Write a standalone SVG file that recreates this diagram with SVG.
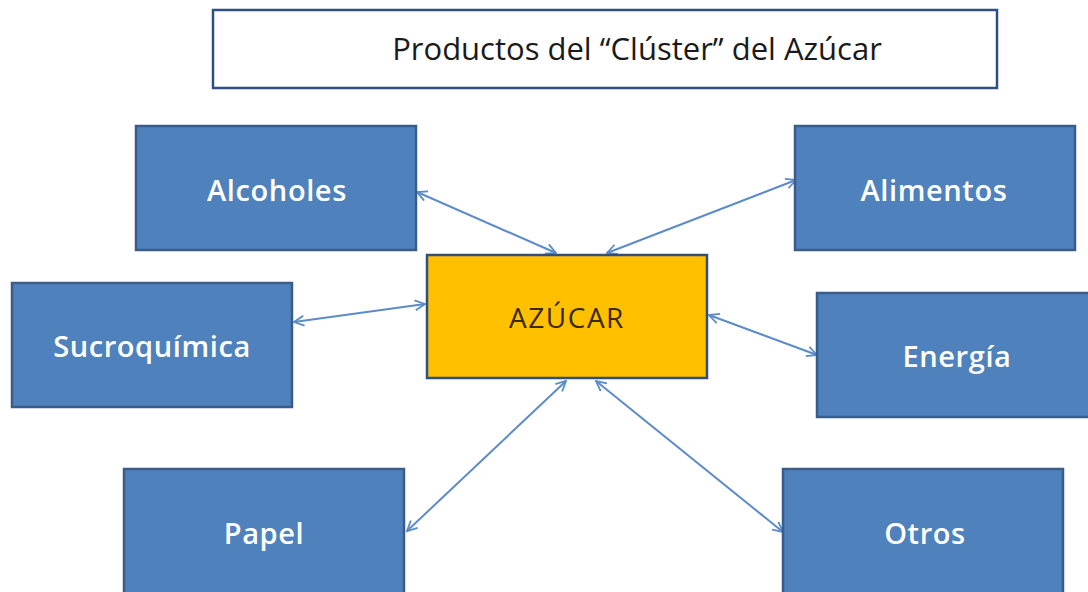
<svg xmlns="http://www.w3.org/2000/svg" width="1088" height="592" viewBox="0 0 1088 592">
<defs>
<style>
.box{fill:#4F81BD;stroke:#385D8A;stroke-width:2.5}
.lbl{font-family:"Open Sans","Liberation Sans",sans-serif;font-weight:600;font-size:29px;letter-spacing:0.6px;fill:#FFFFFF;text-anchor:middle}
.con{stroke:#5B8BC8;stroke-width:2;fill:none;marker-start:url(#ah);marker-end:url(#ah)}
</style>
<marker id="ah" viewBox="0 0 12 12" refX="11" refY="6" markerWidth="12" markerHeight="12" markerUnits="userSpaceOnUse" orient="auto-start-reverse">
<path d="M1,1 L11,6 L1,11" fill="none" stroke="#5B8BC8" stroke-width="1.8"/>
</marker>
</defs>
<rect width="1088" height="592" fill="#FFFFFF"/>
<g id="title">
<rect x="213" y="10" width="784" height="78" fill="#FFFFFF" stroke="#2E4F7F" stroke-width="2.5"/>
<text x="637" y="60" font-family="'Open Sans','Liberation Sans',sans-serif" font-size="31" fill="#1A1A1A" text-anchor="middle">Productos del “Clúster” del Azúcar</text>
</g>
<g id="connectors">
<line class="con" x1="417" y1="192" x2="556" y2="253"/>
<line class="con" x1="796" y1="180" x2="607" y2="253"/>
<line class="con" x1="294" y1="322" x2="425" y2="304"/>
<line class="con" x1="709" y1="315" x2="817" y2="355"/>
<line class="con" x1="407" y1="531" x2="566" y2="381"/>
<line class="con" x1="783" y1="532" x2="596" y2="381"/>
</g>
<g id="azucar">
<rect x="427" y="255" width="280" height="123" fill="#FFC000" stroke="#2E4F7F" stroke-width="2.5"/>
<text x="567" y="328" font-family="'Open Sans','Liberation Sans',sans-serif" font-size="28" letter-spacing="1.5" fill="#3A2A00" text-anchor="middle">AZÚCAR</text>
</g>
<g id="alcoholes">
<rect class="box" x="136" y="126" width="280" height="124"/>
<text class="lbl" x="277" y="201">Alcoholes</text>
</g>
<g id="alimentos">
<rect class="box" x="795" y="126" width="280" height="124"/>
<text class="lbl" x="934" y="201">Alimentos</text>
</g>
<g id="sucroquimica">
<rect class="box" x="12" y="283" width="280" height="124"/>
<text class="lbl" x="152" y="357">Sucroquímica</text>
</g>
<g id="energia">
<rect class="box" x="817" y="293" width="280" height="124"/>
<text class="lbl" x="957" y="367">Energía</text>
</g>
<g id="papel">
<rect class="box" x="124" y="469" width="280" height="130"/>
<text class="lbl" x="264" y="544">Papel</text>
</g>
<g id="otros">
<rect class="box" x="783" y="469" width="280" height="130"/>
<text class="lbl" x="925" y="544">Otros</text>
</g>
</svg>
